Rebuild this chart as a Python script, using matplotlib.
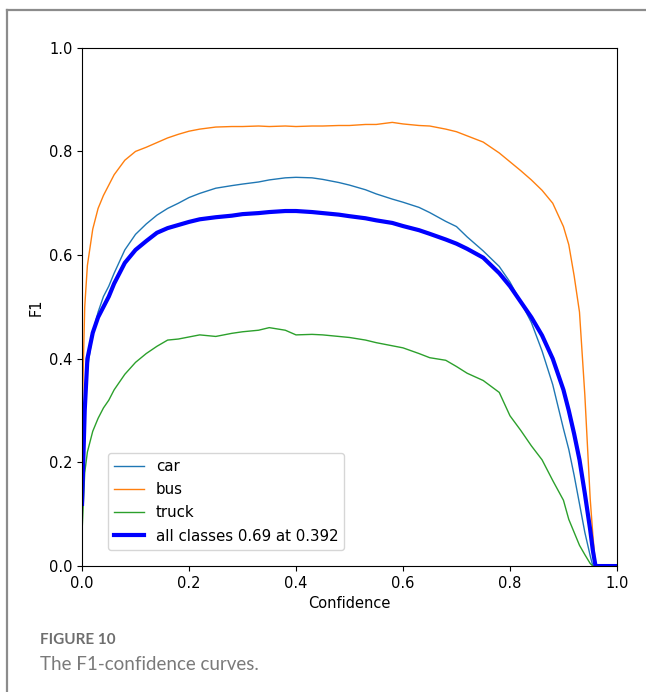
import matplotlib
matplotlib.use("Agg")
import matplotlib.pyplot as plt
from matplotlib.lines import Line2D

# confidence grid (shared by every class curve)
conf = [0.0, 0.005, 0.01, 0.02, 0.03, 0.04, 0.05, 0.06, 0.08, 0.10,
        0.12, 0.14, 0.16, 0.18, 0.20, 0.22, 0.25, 0.28, 0.30, 0.33,
        0.35, 0.38, 0.40, 0.43, 0.45, 0.48, 0.50, 0.53, 0.55, 0.58,
        0.60, 0.63, 0.65, 0.68, 0.70, 0.72, 0.75, 0.78, 0.80, 0.82,
        0.84, 0.86, 0.88, 0.90, 0.91, 0.92, 0.93, 0.94, 0.95, 0.955,
        0.96, 0.97, 1.0]

car = [0.13, 0.30, 0.38, 0.45, 0.49, 0.52, 0.54, 0.565, 0.61, 0.64,
       0.66, 0.677, 0.69, 0.70, 0.711, 0.719, 0.729, 0.734, 0.737, 0.741,
       0.745, 0.749, 0.750, 0.749, 0.746, 0.740, 0.735, 0.726, 0.718, 0.708,
       0.702, 0.692, 0.682, 0.665, 0.655, 0.635, 0.608, 0.578, 0.548, 0.51,
       0.47, 0.415, 0.35, 0.265, 0.225, 0.175, 0.12, 0.065, 0.02, 0.0,
       0.0, 0.0, 0.0]

bus = [0.28, 0.50, 0.58, 0.65, 0.69, 0.715, 0.735, 0.755, 0.783, 0.80,
       0.808, 0.817, 0.826, 0.833, 0.839, 0.843, 0.847, 0.848, 0.848, 0.849,
       0.848, 0.849, 0.848, 0.849, 0.849, 0.850, 0.850, 0.852, 0.852, 0.856,
       0.853, 0.850, 0.849, 0.843, 0.838, 0.830, 0.818, 0.797, 0.780, 0.763,
       0.745, 0.725, 0.70, 0.655, 0.62, 0.56, 0.49, 0.33, 0.13, 0.06,
       0.0, 0.0, 0.0]

truck = [0.066, 0.18, 0.22, 0.26, 0.285, 0.305, 0.32, 0.34, 0.37, 0.393,
         0.41, 0.424, 0.436, 0.438, 0.442, 0.446, 0.443, 0.449, 0.452, 0.455,
         0.46, 0.455, 0.446, 0.447, 0.446, 0.443, 0.441, 0.436, 0.431, 0.425,
         0.421, 0.410, 0.402, 0.397, 0.385, 0.372, 0.358, 0.335, 0.29, 0.262,
         0.232, 0.205, 0.165, 0.127, 0.09, 0.065, 0.04, 0.022, 0.005, 0.0,
         0.0, 0.0, 0.0]

all_classes = [0.12, 0.30, 0.40, 0.45, 0.48, 0.50, 0.52, 0.545, 0.585, 0.61,
               0.627, 0.643, 0.652, 0.658, 0.664, 0.669, 0.673, 0.676, 0.679, 0.681,
               0.683, 0.685, 0.685, 0.683, 0.681, 0.678, 0.675, 0.671, 0.667, 0.662,
               0.656, 0.648, 0.641, 0.630, 0.622, 0.612, 0.595, 0.565, 0.54, 0.51,
               0.48, 0.445, 0.40, 0.34, 0.30, 0.255, 0.205, 0.14, 0.07, 0.03,
               0.0, 0.0, 0.0]

names = ["car", "bus", "truck"]
best_f1 = 0.69
best_conf = 0.392

fig = plt.figure(figsize=(6.46, 6.92), dpi=100)
ax = fig.add_axes([0.127, 0.182, 0.828, 0.749])

for name, vals in zip(names, [car, bus, truck]):
    ax.plot(conf, vals, linewidth=1, label=name)
ax.plot(conf, all_classes, linewidth=3, color="blue",
        label="all classes %.2f at %.3f" % (best_f1, best_conf))

ax.set_xlim(0, 1)
ax.set_ylim(0, 1)
ax.set_xlabel("Confidence", fontsize=10.5)
ax.set_ylabel("F1", fontsize=10.5)
ax.tick_params(labelsize=10.5)
ax.legend(loc="lower left", bbox_to_anchor=(0.034, 0.017), fontsize=10.8,
          labelspacing=0.55)

# page frame and caption
fig.add_artist(Line2D([7/646, 1.0], [1 - 10/692, 1 - 10/692], color="#8c8c8c", linewidth=1.6))
fig.add_artist(Line2D([7/646, 7/646], [0.0, 1 - 10/692], color="#8c8c8c", linewidth=1.6))
fig.text(40/646, 1 - 640/692, "FIGURE 10", family="Lato", weight="bold",
         fontsize=11, color="#6e6e6e", va="center")
fig.text(40/646, 1 - 665/692, "The F1-confidence curves.", family="Lato",
         fontsize=13.5, color="#7a7a7a", va="center")

fig.savefig("out.png", dpi=100)
